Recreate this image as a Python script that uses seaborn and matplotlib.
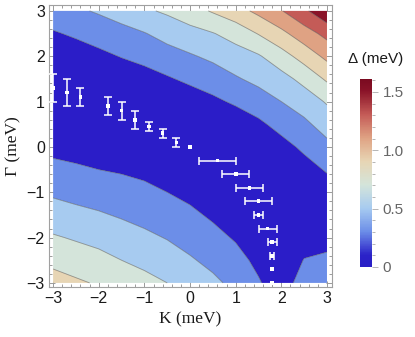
import numpy as np
import pandas as pd
import matplotlib
matplotlib.use("Agg")
import matplotlib.pyplot as plt
from matplotlib.colors import LinearSegmentedColormap, Normalize
from matplotlib.ticker import MultipleLocator, FixedLocator
import seaborn as sns

# ---------------- data ----------------
k_grid = [-3.0, -2.5, -2.0, -1.5, -1.0, -0.5, 0.0, 0.5, 1.0, 1.5, 2.0, 2.5, 3.0]
gamma_grid = [3.0, 2.5, 2.0, 1.5, 1.0, 0.5, 0.0, -0.5, -1.0, -1.5, -2.0, -2.5, -3.0]
# gap Delta (meV); rows follow gamma_grid, columns follow k_grid
delta_grid = [
    [0.32, 0.37, 0.42, 0.48, 0.57, 0.63, 0.72, 0.82, 0.92, 1.05, 1.19, 1.36, 1.56],
    [0.18, 0.23, 0.29, 0.34, 0.39, 0.47, 0.53, 0.59, 0.68, 0.81, 0.95, 1.11, 1.26],
    [0.05, 0.10, 0.15, 0.21, 0.26, 0.32, 0.38, 0.44, 0.51, 0.58, 0.72, 0.88, 1.05],
    [0.00, 0.00, 0.02, 0.07, 0.12, 0.18, 0.24, 0.30, 0.38, 0.45, 0.53, 0.66, 0.83],
    [0.00, 0.00, 0.00, 0.00, 0.00, 0.04, 0.10, 0.16, 0.23, 0.31, 0.40, 0.49, 0.62],
    [0.00, 0.00, 0.00, 0.00, 0.00, 0.00, 0.00, 0.02, 0.08, 0.16, 0.27, 0.36, 0.48],
    [0.14, 0.12, 0.09, 0.07, 0.06, 0.01, 0.00, 0.00, 0.00, 0.02, 0.13, 0.24, 0.35],
    [0.26, 0.23, 0.20, 0.18, 0.15, 0.10, 0.07, 0.00, 0.00, 0.00, 0.00, 0.12, 0.22],
    [0.37, 0.34, 0.31, 0.28, 0.25, 0.20, 0.15, 0.09, 0.00, 0.00, 0.00, 0.02, 0.10],
    [0.49, 0.45, 0.42, 0.38, 0.34, 0.29, 0.24, 0.17, 0.09, 0.00, 0.00, 0.00, 0.00],
    [0.62, 0.58, 0.54, 0.49, 0.44, 0.39, 0.33, 0.26, 0.18, 0.05, 0.00, 0.09, 0.13],
    [0.75, 0.70, 0.66, 0.60, 0.55, 0.49, 0.42, 0.35, 0.27, 0.15, 0.02, 0.21, 0.24],
    [0.88, 0.83, 0.78, 0.72, 0.66, 0.60, 0.54, 0.44, 0.35, 0.22, 0.08, 0.31, 0.33],
]
contour_levels = [0.2, 0.4, 0.6, 0.8, 1.0, 1.2, 1.4]
band_colors = ["#2b1dc8", "#6c8ee8", "#a7cbf0", "#d4e4da", "#e7d5b4",
               "#dfa283", "#c45b57", "#8a1328"]

# points with vertical (Gamma) error bars
left_K = [-3.0, -2.7, -2.4, -1.8, -1.5, -1.2, -0.9, -0.6, -0.3, 0.0]
left_G = [1.3, 1.2, 1.1, 0.9, 0.8, 0.6, 0.45, 0.3, 0.1, 0.0]
left_Gerr = [0.3, 0.3, 0.2, 0.2, 0.2, 0.2, 0.1, 0.1, 0.1, 0.0]
# points with horizontal (K) error bars
right_K = [0.6, 1.0, 1.3, 1.5, 1.5, 1.7, 1.8, 1.8, 1.8, 1.8]
right_G = [-0.3, -0.6, -0.9, -1.2, -1.5, -1.8, -2.1, -2.4, -2.7, -3.0]
right_Kerr = [0.4, 0.3, 0.3, 0.3, 0.1, 0.2, 0.1, 0.05, 0.0, 0.0]

x_ticks = [-3, -2, -1, 0, 1, 2, 3]
y_ticks = [-3, -2, -1, 0, 1, 2, 3]
cbar_ticks = [0, 0.5, 1.0, 1.5]
cbar_labels = ["0", "0.5", "1.0", "1.5"]

# ---------------- figure ----------------
sns.set_style("ticks")
plt.rcParams["font.family"] = ["Liberation Sans", "DejaVu Sans"]

W, H = 415, 337
fig = plt.figure(figsize=(W / 100, H / 100), dpi=100)
ax = fig.add_axes([49 / W, 1 - 287 / H, (332 - 49) / W, (287 - 5) / H])

ZZ = np.array(delta_grid)
fill_levels = [-5] + contour_levels + [5]
ax.contourf(k_grid, gamma_grid, ZZ, levels=fill_levels, colors=band_colors,
            antialiased=True)
ax.contour(k_grid, gamma_grid, ZZ, levels=contour_levels, colors="#4a4a4a",
           linewidths=0.6, alpha=0.55)

# error bars
lk, lg, le = np.array(left_K), np.array(left_G), np.array(left_Gerr)
m = le > 0
ax.errorbar(lk[m], lg[m], yerr=le[m], fmt="none", ecolor="white",
            elinewidth=1.1, capsize=3.2, capthick=1.1, zorder=5)
rk, rg, re = np.array(right_K), np.array(right_G), np.array(right_Kerr)
m = re > 0
ax.errorbar(rk[m], rg[m], xerr=re[m], fmt="none", ecolor="white",
            elinewidth=1.1, capsize=3.2, capthick=1.1, zorder=5)
pts = pd.DataFrame({"K": left_K + right_K, "G": left_G + right_G})
sns.scatterplot(data=pts, x="K", y="G", marker="s", s=7, color="white",
                edgecolor="none", linewidth=0, ax=ax, zorder=6)

ax.set_xlim(-3.09, 3.11)
ax.set_ylim(-3.09, 3.13)
ax.xaxis.set_major_locator(FixedLocator(x_ticks))
ax.yaxis.set_major_locator(FixedLocator(y_ticks))
ax.xaxis.set_minor_locator(MultipleLocator(0.2))
ax.yaxis.set_minor_locator(MultipleLocator(0.2))
ax.set_xticklabels([str(t).replace("-", "\u2212") for t in x_ticks])
ax.set_yticklabels([str(t).replace("-", "\u2212") for t in y_ticks])
ax.tick_params(which="both", direction="in", top=True, right=True,
               color="#9a9a9a", labelcolor="#1a1a1a", labelsize=11.5, width=0.7)
ax.tick_params(which="major", length=4.5, pad=3)
ax.tick_params(which="minor", length=2.5)
for s in ax.spines.values():
    s.set_color("#a0a0a0")
    s.set_linewidth(0.8)

ax.set_xlabel("K (meV)", family=["Liberation Serif", "DejaVu Serif"],
              fontsize=12.5, color="#1a1a1a", labelpad=4)
ax.set_ylabel("\u0393 (meV)", family=["Liberation Serif", "DejaVu Serif"],
              fontsize=12.5, color="#1a1a1a", labelpad=4)

# colour bar
cmap = LinearSegmentedColormap.from_list("thermo", [
    (0.0, "#2a1fc6"), (0.0625, "#2b22c8"), (0.1875, "#6c8ee8"),
    (0.3125, "#a7cbf0"), (0.4375, "#d4e4da"), (0.5625, "#e7d5b4"),
    (0.6875, "#dfa283"), (0.8125, "#c45b57"), (0.9375, "#8a1328"),
    (1.0, "#7a0a20")])
cax = fig.add_axes([360 / W, 1 - 267 / H, 12 / W, 188 / H])
sm = plt.cm.ScalarMappable(norm=Normalize(0, 1.61), cmap=cmap)
cb = fig.colorbar(sm, cax=cax)
cb.outline.set_visible(False)
cb.set_ticks(cbar_ticks)
cb.set_ticklabels(cbar_labels)
cax.yaxis.set_minor_locator(MultipleLocator(0.1))
cax.tick_params(which="both", direction="out", color="#aaaaaa",
                labelcolor="#666666", labelsize=11, width=0.6)
cax.tick_params(which="major", length=4)
cax.tick_params(which="minor", length=2)
fig.text(376 / W, 1 - 59 / H, "\u0394 (meV)", ha="center", va="center",
         fontsize=11, color="#1a1a1a")

fig.savefig("out.png", dpi=100)
